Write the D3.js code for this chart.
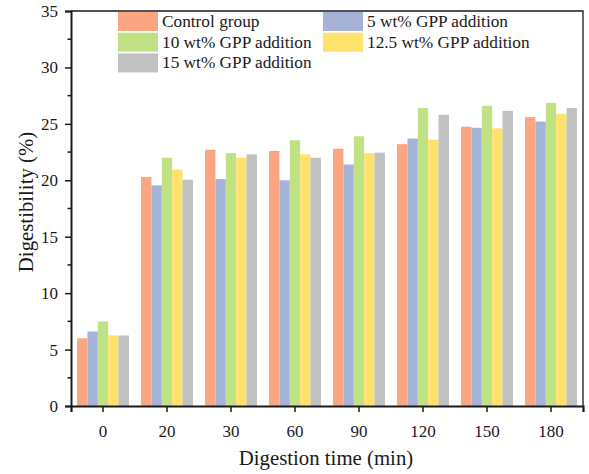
<!DOCTYPE html>
<html>
<head>
<meta charset="utf-8">
<script src="https://cdn.jsdelivr.net/npm/d3@7"></script>
<style>
  html, body { margin: 0; padding: 0; background: #fff; }
  svg text { font-family: "Liberation Serif", "Times New Roman", serif; fill: #1a1a1a; }
</style>
</head>
<body>
<svg id="chart" width="589" height="474"></svg>
<script>
// Digestion time points (min)
const times = ["0", "20", "30", "60", "90", "120", "150", "180"];
const seriesNames = ["Control group", "5 wt% GPP addition", "10 wt% GPP addition", "12.5 wt% GPP addition", "15 wt% GPP addition"];
const seriesColors = ["#FCA583", "#A6B3D6", "#C0E285", "#FFE26B", "#C1C1C1"];

// Digestibility (%) per series, one value per time point
const control   = [6.0, 20.3, 22.7, 22.6, 22.8, 23.2, 24.75, 25.6];
const gpp5      = [6.6, 19.55, 20.1, 20.0, 21.4, 23.7, 24.65, 25.2];
const gpp10     = [7.5, 22.0, 22.4, 23.55, 23.9, 26.4, 26.6, 26.85];
const gpp12_5   = [6.25, 20.95, 22.0, 22.3, 22.4, 23.6, 24.6, 25.9];
const gpp15     = [6.25, 20.05, 22.3, 22.0, 22.45, 25.8, 26.15, 26.4];
const seriesValues = [control, gpp5, gpp10, gpp12_5, gpp15];

const yMajorTicks = [0, 5, 10, 15, 20, 25, 30, 35];
const yMinorTicks = [2.5, 7.5, 12.5, 17.5, 22.5, 27.5, 32.5];

const svg = d3.select("#chart");
const plot = { left: 71, right: 583, top: 11, bottom: 406 };

const x = d3.scaleBand().domain(times).range([plot.left, plot.right]).paddingInner(0.19).paddingOuter(0.095);
const xCenter = d3.scaleBand().domain(times).range([plot.left, plot.right]);
const xSub = d3.scaleBand().domain(d3.range(seriesNames.length)).range([0, x.bandwidth()]);
const y = d3.scaleLinear().domain([0, 35]).range([plot.bottom, plot.top]);

// Bars
const groups = svg.append("g").selectAll("g")
  .data(times)
  .join("g")
  .attr("transform", t => `translate(${x(t)},0)`);

groups.selectAll("rect")
  .data((t, i) => seriesValues.map((vals, s) => ({ s, v: vals[i] })))
  .join("rect")
  .attr("x", d => xSub(d.s))
  .attr("width", xSub.bandwidth())
  .attr("y", d => y(d.v))
  .attr("height", d => y(0) - y(d.v))
  .attr("fill", d => seriesColors[d.s]);

// Frame (top and right)
svg.append("path")
  .attr("d", `M${plot.left},${plot.top}H${plot.right}V${plot.bottom}`)
  .attr("fill", "none").attr("stroke", "#1a1a1a").attr("stroke-width", 1.3);

// Y axis
const yAxis = svg.append("g")
  .attr("transform", `translate(${plot.left},0)`)
  .call(d3.axisLeft(y).tickValues(yMajorTicks).tickSize(6).tickPadding(7).tickFormat(d3.format("d")));
yAxis.select(".domain").attr("stroke", "#1a1a1a").attr("stroke-width", 2);
yAxis.selectAll(".tick line").attr("stroke", "#1a1a1a").attr("stroke-width", 1.5);
yAxis.selectAll("text").attr("font-size", 17).attr("fill", "#1a1a1a")
  .style("font-family", "'Liberation Serif', serif");

svg.append("g").selectAll("line")
  .data(yMinorTicks)
  .join("line")
  .attr("x1", plot.left - 3.5).attr("x2", plot.left)
  .attr("y1", d => y(d)).attr("y2", d => y(d))
  .attr("stroke", "#1a1a1a").attr("stroke-width", 1.5);

// X axis
const xAxis = svg.append("g")
  .attr("transform", `translate(0,${plot.bottom})`)
  .call(d3.axisBottom(xCenter).tickSize(6).tickPadding(13));
xAxis.select(".domain").attr("stroke", "#1a1a1a").attr("stroke-width", 2.2);
xAxis.selectAll(".tick line").attr("stroke", "#1a1a1a").attr("stroke-width", 1.5);
xAxis.selectAll("text").attr("font-size", 17).attr("fill", "#1a1a1a")
  .style("font-family", "'Liberation Serif', serif");

// Axis titles
svg.append("text")
  .attr("x", 326).attr("y", 465)
  .attr("text-anchor", "middle").attr("font-size", 20.8)
  .text("Digestion time (min)");

svg.append("text")
  .attr("transform", `translate(33,202) rotate(-90)`)
  .attr("text-anchor", "middle").attr("font-size", 20.8)
  .text("Digestibility (%)");

// Legend, two columns filled row by row
const legendCols = [118, 323];
const legendRowY = [12, 32.7, 53.4];
const legend = svg.append("g").selectAll("g")
  .data(seriesNames)
  .join("g")
  .attr("transform", (d, i) => `translate(${legendCols[i % 2]},${legendRowY[Math.floor(i / 2)]})`);
legend.append("rect")
  .attr("width", 40).attr("height", 19)
  .attr("fill", (d, i) => seriesColors[i]);
legend.append("text")
  .attr("x", 44).attr("y", 15)
  .attr("font-size", 17.3)
  .text(d => d);
</script>
</body>
</html>
